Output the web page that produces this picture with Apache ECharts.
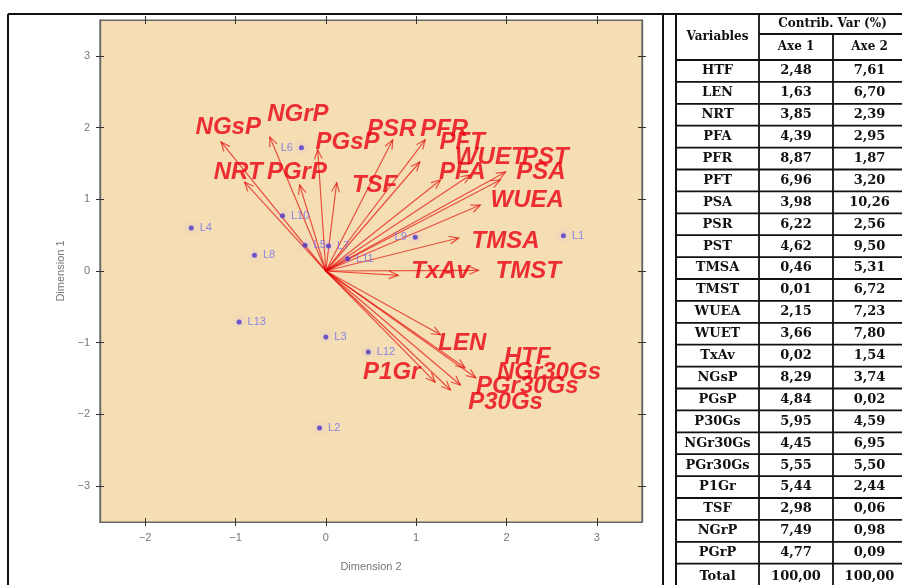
<!DOCTYPE html>
<html>
<head>
<meta charset="utf-8">
<script src="https://cdn.jsdelivr.net/npm/echarts@6/dist/echarts.min.js"></script>
<style>
html, body { margin: 0; padding: 0; background: #ffffff; }
#chart { width: 902px; height: 585px; }
</style>
</head>
<body>
<div id="chart"></div>
<script>
// Variables: arrow tips (Dimension 2, Dimension 1) and where each name is written
const varNames = ['HTF','LEN','NRT','PFA','PFR','PFT','PSA','PSR','PST','TMSA','TMST','WUEA','WUET','TxAv','NGsP','PGsP','P30Gs','NGr30Gs','PGr30Gs','P1Gr','TSF','NGrP','PGrP'];
const arrowX = [1.54, 1.27, -0.90, 1.27, 1.10, 1.04, 1.93, 0.74, 1.99, 1.47, 1.69, 1.71, 1.60, 0.80, -1.16, -0.09, 1.38, 1.66, 1.49, 1.21, 0.12, -0.62, -0.29];
const arrowY = [-1.35, -0.89, 1.24, 1.27, 1.83, 1.52, 1.27, 1.83, 1.38, 0.46, 0.01, 0.92, 1.34, -0.06, 1.80, 1.69, -1.66, -1.49, -1.59, -1.55, 1.23, 1.87, 1.20];
const nameX = [2.23, 1.51, -0.97, 1.51, 1.31, 1.51, 2.38, 0.73, 2.43, 1.99, 2.24, 2.23, 1.82, 1.27, -1.08, 0.24, 1.99, 2.47, 2.23, 0.73, 0.54, -0.31, -0.32];
const nameY = [-1.20, -1.01, 1.38, 1.38, 1.98, 1.79, 1.38, 1.98, 1.58, 0.41, -0.01, 0.99, 1.58, -0.01, 2.00, 1.79, -1.83, -1.41, -1.61, -1.41, 1.19, 2.18, 1.38];

// Individuals (lines) and the side their name sits on
const indNames = ['L1','L2','L3','L4','L5','L6','L7','L8','L9','L10','L11','L12','L13'];
const indX = [2.63, -0.07, 0.00, -1.49, -0.23, -0.27, 0.03, -0.79, 0.99, -0.48, 0.24, 0.47, -0.96];
const indY = [0.49, -2.19, -0.92, 0.60, 0.36, 1.72, 0.35, 0.22, 0.47, 0.77, 0.17, -1.13, -0.71];
const indSide = ['right','right','right','right','right','left','right','right','left','right','right','right','right'];

// Contribution table
const tableVars = ['HTF','LEN','NRT','PFA','PFR','PFT','PSA','PSR','PST','TMSA','TMST','WUEA','WUET','TxAv','NGsP','PGsP','P30Gs','NGr30Gs','PGr30Gs','P1Gr','TSF','NGrP','PGrP'];
const contribAxe1 = [2.48, 1.63, 3.85, 4.39, 8.87, 6.96, 3.98, 6.22, 4.62, 0.46, 0.01, 2.15, 3.66, 0.02, 8.29, 4.84, 5.95, 4.45, 5.55, 5.44, 2.98, 7.49, 4.77];
const contribAxe2 = [7.61, 6.70, 2.39, 2.95, 1.87, 3.20, 10.26, 2.56, 9.50, 5.31, 6.72, 7.23, 7.80, 1.54, 3.74, 0.02, 4.59, 6.95, 5.50, 2.44, 0.06, 0.98, 0.09];
const totalAxe1 = 100.00;
const totalAxe2 = 100.00;

const tickValues = [-3, -2, -1, 0, 1, 2, 3];

const fmtTick = v => (v < 0 ? '\u2212' + Math.abs(v) : String(v));
const fmtPct = v => v.toFixed(2).replace('.', ',');

const chart = echarts.init(document.getElementById('chart'), null, { renderer: 'canvas' });

const AX_COL = '#666666';
function makeAxis(dim, pos, inside, withLabel, extra) {
  const ax = {
    type: 'value',
    position: pos,
    min: dim === 'x' ? -2.5 : -3.5,
    max: dim === 'x' ? 3.5 : 3.5,
    axisLine: { show: true, onZero: false, lineStyle: { color: AX_COL, width: 1.2 } },
    axisTick: { show: true, inside: inside, length: 4, customValues: tickValues, lineStyle: { color: '#333', width: 1 } },
    axisLabel: withLabel
      ? { show: true, customValues: tickValues, formatter: fmtTick, color: '#777', fontSize: 11, fontFamily: 'Liberation Sans', margin: 10 }
      : { show: false },
    splitLine: { show: false }
  };
  return Object.assign(ax, extra || {});
}

const arrowData = arrowX.map((x, i) => [x, arrowY[i], varNames[i]]);
const nameData = nameX.map((x, i) => [x, nameY[i], varNames[i]]);
const indData = indX.map((x, i) => ({
  value: [x, indY[i], indNames[i]],
  label: { position: indSide[i] }
}));

// Table drawn as graphic primitives
const T = { x0: 676, c1: 759, c2: 833, x3: 910, top: 14, mid: 34, head: 60, rowH: 21.9 };
const tFont = 'bold 13px "DejaVu Serif", "Liberation Serif", serif';
const hFont = 'bold 12px "DejaVu Serif", "Liberation Serif", serif';
const graphics = [];
function hline(x1, x2, y, w) { graphics.push({ type: 'line', shape: { x1, y1: y, x2, y2: y }, style: { stroke: '#111', lineWidth: w || 1.8 }, silent: true }); }
function vline(x, y1, y2, w) { graphics.push({ type: 'line', shape: { x1: x, y1, x2: x, y2 }, style: { stroke: '#111', lineWidth: w || 1.8 }, silent: true }); }
function txt(s, x, y, f) { graphics.push({ type: 'text', x, y, style: { text: s, font: f || tFont, fill: '#111', align: 'center', verticalAlign: 'middle' }, silent: true }); }

// outer frame of the figure
hline(8, 902, T.top, 2);
vline(8, T.top, 585, 2);
vline(663, T.top, 585, 2);
vline(T.x0, T.top, 585, 2);
// table grid
vline(T.c1, T.top, 585);
vline(T.c2, T.mid, 585);
hline(T.c1, T.x3, T.mid);
hline(T.x0, T.x3, T.head);
txt('Variables', (T.x0 + T.c1) / 2, (T.top + T.head) / 2, hFont);
txt('Contrib. Var (%)', (T.c1 + T.x3) / 2 - 2, (T.top + T.mid) / 2, hFont);
txt('Axe 1', (T.c1 + T.c2) / 2, (T.mid + T.head) / 2, hFont);
txt('Axe 2', (T.c2 + T.x3) / 2 - 2, (T.mid + T.head) / 2, hFont);
tableVars.forEach((v, i) => {
  const y0 = T.head + i * T.rowH;
  hline(T.x0, T.x3, y0 + T.rowH);
  txt(v, (T.x0 + T.c1) / 2, y0 + T.rowH / 2);
  txt(fmtPct(contribAxe1[i]), (T.c1 + T.c2) / 2, y0 + T.rowH / 2);
  txt(fmtPct(contribAxe2[i]), (T.c2 + T.x3) / 2 - 2, y0 + T.rowH / 2);
});
{
  const y0 = T.head + tableVars.length * T.rowH;
  txt('Total', (T.x0 + T.c1) / 2, y0 + 13);
  txt(fmtPct(totalAxe1), (T.c1 + T.c2) / 2, y0 + 13);
  txt(fmtPct(totalAxe2), (T.c2 + T.x3) / 2 - 2, y0 + 13);
}

const option = {
  animation: false,
  backgroundColor: '#ffffff',
  grid: {
    left: 100, top: 20, width: 542, height: 502,
    show: true, backgroundColor: '#F5DEB3', borderColor: AX_COL, borderWidth: 1.2
  },
  xAxis: [
    makeAxis('x', 'bottom', false, true, { name: 'Dimension 2', nameLocation: 'middle', nameGap: 39, nameTextStyle: { color: '#777', fontSize: 11, fontFamily: 'Liberation Sans' } }),
    makeAxis('x', 'bottom', true, false),
    makeAxis('x', 'top', false, false),
    makeAxis('x', 'top', true, false)
  ],
  yAxis: [
    makeAxis('y', 'left', false, true, { name: 'Dimension 1', nameLocation: 'middle', nameGap: 33, nameTextStyle: { color: '#777', fontSize: 11, fontFamily: 'Liberation Sans' } }),
    makeAxis('y', 'left', true, false),
    makeAxis('y', 'right', false, false),
    makeAxis('y', 'right', true, false)
  ],
  graphic: graphics,
  series: [
    {
      type: 'custom',
      name: 'variables',
      xAxisIndex: 0, yAxisIndex: 0,
      silent: true,
      data: arrowData,
      clip: false,
      renderItem: function (params, api) {
        const o = api.coord([0, 0]);
        const p = api.coord([api.value(0), api.value(1)]);
        const ang = Math.atan2(p[1] - o[1], p[0] - o[0]);
        const hl = 10, ha = 0.4;
        const h1 = [p[0] - hl * Math.cos(ang - ha), p[1] - hl * Math.sin(ang - ha)];
        const h2 = [p[0] - hl * Math.cos(ang + ha), p[1] - hl * Math.sin(ang + ha)];
        const st = { stroke: 'rgba(228,0,0,0.65)', lineWidth: 1.2, fill: null };
        return {
          type: 'group',
          children: [
            { type: 'line', shape: { x1: o[0], y1: o[1], x2: p[0], y2: p[1] }, style: st },
            { type: 'polyline', shape: { points: [h1, p, h2] }, style: st }
          ]
        };
      },
      z: 2
    },
    {
      type: 'scatter',
      name: 'names',
      xAxisIndex: 0, yAxisIndex: 0,
      silent: true,
      data: nameData,
      symbolSize: 1,
      itemStyle: { color: 'rgba(0,0,0,0)' },
      label: {
        show: true, position: 'inside',
        formatter: p => p.data[2],
        color: '#EA0010', fontSize: 24, fontStyle: 'italic', fontWeight: 'bold',
        fontFamily: 'Liberation Sans'
      },
      labelLayout: { hideOverlap: false },
      z: 4
    },
    {
      type: 'scatter',
      name: 'lines',
      xAxisIndex: 0, yAxisIndex: 0,
      silent: true,
      data: indData,
      symbolSize: 5,
      itemStyle: { color: '#4a35c8', shadowBlur: 6, shadowColor: 'rgba(190,150,255,0.9)' },
      label: {
        show: true, position: 'right', distance: 6,
        formatter: p => p.data.value[2],
        color: '#6e6ef0', fontSize: 11, fontFamily: 'Liberation Sans'
      },
      labelLayout: { hideOverlap: false },
      z: 3
    }
  ]
};

chart.setOption(option);
</script>
</body>
</html>
